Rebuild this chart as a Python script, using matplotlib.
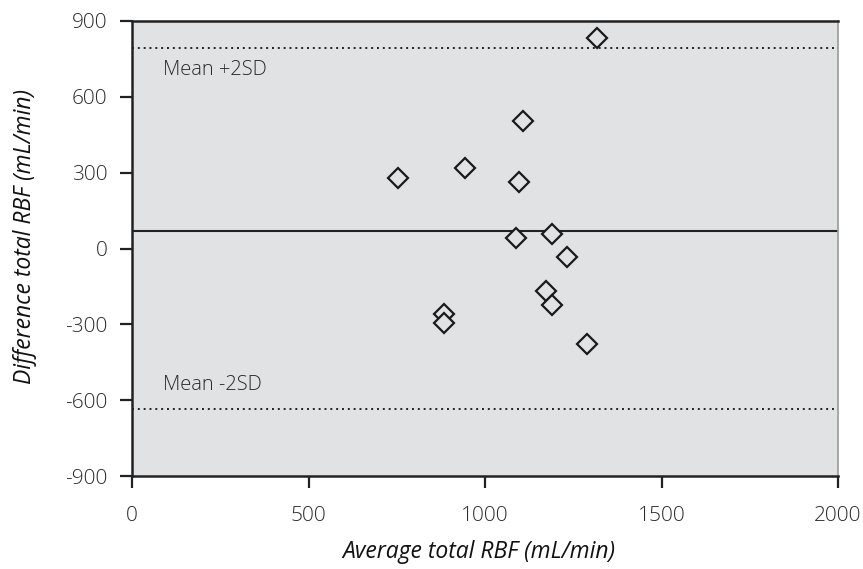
import matplotlib
matplotlib.use("Agg")
import matplotlib.pyplot as plt

avg_rbf = [1317, 1107, 943, 754, 1096, 1088, 1190, 1232, 1173, 1190, 885, 885, 1289]
diff_rbf = [833, 504, 320, 278, 263, 43, 57, -34, -169, -225, -260, -293, -377]
mean_diff = 68
upper_loa = 794
lower_loa = -636
x_ticks = [0, 500, 1000, 1500, 2000]
y_ticks = [-900, -600, -300, 0, 300, 600, 900]

plt.rcParams['font.family'] = ['Open Sans', 'DejaVu Sans']
plt.rcParams['axes.unicode_minus'] = False

fig = plt.figure(figsize=(8.63, 5.69), dpi=100)
ax = fig.add_axes([132/863, 1-476/569, (838-132)/863, (476-21)/569])
bg = '#e1e2e4'
ax.set_facecolor(bg)
ax.set_xlim(0, 2000)
ax.set_ylim(-900, 900)

ax.axhline(mean_diff, color='#222222', lw=1.5, zorder=2)
ax.axhline(upper_loa, color='#222222', lw=1.4, ls=(0, (1, 2)), zorder=2)
ax.axhline(lower_loa, color='#222222', lw=1.4, ls=(0, (1, 2)), zorder=2)

ax.plot(avg_rbf, diff_rbf, ls='none', marker='D', markersize=10.5,
        markerfacecolor=bg, markeredgecolor='#1a1a1a', markeredgewidth=1.6, zorder=3)

ax.text(88, 706, 'Mean +2SD', fontsize=14.5, fontweight='light', color='#2a2a2a', va='center', ha='left')
ax.text(88, -540, 'Mean -2SD', fontsize=14.5, fontweight='light', color='#2a2a2a', va='center', ha='left')

ax.set_xticks(x_ticks)
ax.set_yticks(y_ticks)
ax.tick_params(axis='both', direction='out', length=8.5, width=1.6, color='#222222',
               labelsize=15, labelcolor='#2a2a2a')
ax.tick_params(axis='x', pad=13)
ax.tick_params(axis='y', pad=9)
for lab in ax.get_xticklabels() + ax.get_yticklabels():
    lab.set_fontweight('light')

for side in ['left', 'bottom', 'top']:
    ax.spines[side].set_linewidth(1.8)
    ax.spines[side].set_color('#222222')
ax.spines['right'].set_linewidth(1.2)
ax.spines['right'].set_color('#999999')

ax.set_xlabel('Average total RBF (mL/min)', fontsize=16.5, style='italic', color='#111111')
ax.set_ylabel('Difference total RBF (mL/min)', fontsize=16.5, style='italic', color='#111111')
ax.yaxis.set_label_coords(-(132-37)/706, (476-237)/455)
ax.xaxis.set_label_coords((479-132)/706, -(540-476)/455)

fig.savefig('out.png', dpi=100)
